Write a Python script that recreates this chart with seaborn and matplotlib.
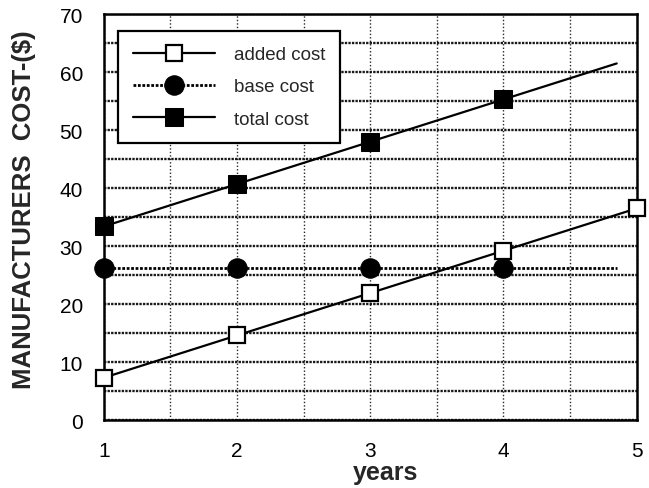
import numpy as np
import pandas as pd
import matplotlib
matplotlib.use("Agg")
import matplotlib.pyplot as plt
from matplotlib.ticker import MultipleLocator
import seaborn as sns

# Cost per unit over the years
years = [1, 2, 3, 4, 5]
added_cost = [7.3, 14.6, 21.9, 29.2, 36.5]
base_years = [1, 2, 3, 4, 4.85]
base_cost = [26.2, 26.2, 26.2, 26.2, 26.2]
total_years = [1, 2, 3, 4, 4.85]
total_cost = [33.4, 40.7, 48.0, 55.3, 61.5]

sns.set_style("white")
plt.rcParams["font.family"] = ["Liberation Sans", "DejaVu Sans"]

fig = plt.figure(figsize=(6.49, 4.89), dpi=100)
ax = fig.add_axes([0.160, 0.139, 0.821, 0.830])

added = pd.DataFrame({"years": years, "cost": added_cost})
base = pd.DataFrame({"years": base_years, "cost": base_cost})
total = pd.DataFrame({"years": total_years, "cost": total_cost})

sns.lineplot(data=added, x="years", y="cost", ax=ax, color="black", lw=1.6,
             marker="s", markersize=11, markerfacecolor="white",
             markeredgecolor="black", markeredgewidth=1.6,
             label="added cost", zorder=5, clip_on=False)
sns.lineplot(data=base, x="years", y="cost", ax=ax, color="black", lw=2.0,
             linestyle=(0, (1, 0.6)), marker="o", markersize=14,
             markerfacecolor="black", markeredgecolor="black",
             markevery=[0, 1, 2, 3], label="base cost", zorder=5,
             clip_on=False)
sns.lineplot(data=total, x="years", y="cost", ax=ax, color="black", lw=1.6,
             marker="s", markersize=13.5, markerfacecolor="black",
             markeredgecolor="black", markevery=[0, 1, 2, 3],
             label="total cost", zorder=5, clip_on=False)

ax.set_xlim(1, 5)
ax.set_ylim(0, 70)
ax.xaxis.set_major_locator(MultipleLocator(1))
ax.xaxis.set_minor_locator(MultipleLocator(0.5))
ax.yaxis.set_major_locator(MultipleLocator(10))
ax.yaxis.set_minor_locator(MultipleLocator(5))

ax.grid(True, which="both", axis="y", color="black", lw=1.7,
        linestyle=(0, (1, 0.5)), alpha=0.9)
ax.grid(True, which="both", axis="x", color="black", lw=1.0,
        linestyle=(0, (1, 1.5)), alpha=0.85)
ax.set_axisbelow(True)

for s in ax.spines.values():
    s.set_color("black")
    s.set_linewidth(1.8)

ax.tick_params(axis="both", which="both", direction="inout", length=10,
               width=1.5, color="black", labelsize=15, labelcolor="black")
ax.tick_params(axis="x", which="major", pad=10)
ax.tick_params(axis="y", which="major", pad=10)

ax.set_xlabel("years", fontsize=18, fontweight="bold", va="center")
ax.xaxis.set_label_coords(0.529, -0.128)
ax.set_ylabel("MANUFACTURERS  COST-($)", fontsize=18.5, fontweight="bold")
ax.yaxis.set_label_coords(-0.128, 0.52)

leg = ax.legend(loc="upper left", bbox_to_anchor=(0.026, 0.958),
                borderaxespad=0, fontsize=13.5, frameon=True, fancybox=False,
                edgecolor="black", framealpha=1, handlelength=4.4,
                handletextpad=1.0, labelspacing=0.8, borderpad=0.8)
leg.get_frame().set_linewidth(1.6)

fig.savefig("out.png", dpi=100)
